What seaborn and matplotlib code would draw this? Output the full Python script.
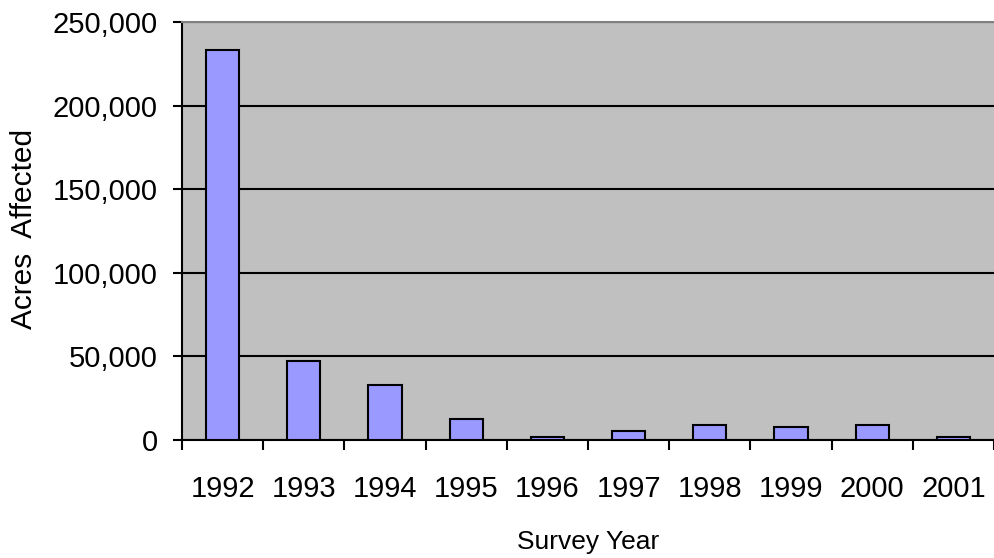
import matplotlib
matplotlib.use("Agg")
import matplotlib.pyplot as plt
from matplotlib.ticker import FuncFormatter, FixedLocator
import seaborn as sns
import pandas as pd

years = ["1992", "1993", "1994", "1995", "1996", "1997", "1998", "1999", "2000", "2001"]
acres = [233000, 47000, 32800, 12500, 1500, 5300, 9000, 7700, 9000, 1500]

df = pd.DataFrame({"Survey Year": years, "Acres Affected": acres})

sns.set_theme(style="white")
plt.rcParams["font.family"] = ["Liberation Sans", "DejaVu Sans"]

fig = plt.figure(figsize=(9.95, 5.58), dpi=100)
ax = fig.add_axes([182 / 995, 118 / 558, 812 / 995, 418 / 558])
ax.set_facecolor("#C0C0C0")

sns.barplot(data=df, x="Survey Year", y="Acres Affected", ax=ax,
            color="#9999FF", saturation=1, width=0.41,
            edgecolor="black", linewidth=1.5, zorder=3)

ax.set_xlim(-0.5, len(years) - 0.5)
ax.set_ylim(0, 250000)
ax.set_yticks(range(0, 250001, 50000))
ax.yaxis.set_major_formatter(FuncFormatter(lambda v, p: f"{int(v):,}"))
ax.grid(axis="y", color="black", linewidth=1.5, zorder=1)
ax.set_axisbelow(True)

# category boundaries carry the tick marks, labels sit at category centres
ax.xaxis.set_minor_locator(FixedLocator([i - 0.5 for i in range(len(years) + 1)]))
ax.tick_params(axis="x", which="major", length=0, pad=25, labelsize=21)
ax.tick_params(axis="x", which="minor", length=7.5, width=1.5, color="black", direction="out")
ax.tick_params(axis="y", length=6.5, width=1.5, color="black", direction="out", pad=11, labelsize=21)
ax.xaxis.set_ticks_position("bottom")
ax.yaxis.set_ticks_position("left")

for lab in ax.get_xticklabels() + ax.get_yticklabels():
    lab.set_color("black")

ax.set_xlabel("Survey Year", fontsize=19, color="black")
ax.xaxis.label.set_va("center")
ax.xaxis.set_label_coords(0.5, (440 - 542) / 418)
ax.set_ylabel("Acres  Affected", fontsize=21.5, color="black")
ax.yaxis.label.set_va("center")
ax.yaxis.set_label_coords((24 - 182) / 812, 0.506)

ax.spines["left"].set_color("black")
ax.spines["left"].set_linewidth(1.5)
ax.spines["bottom"].set_color("black")
ax.spines["bottom"].set_linewidth(1.5)
ax.spines["top"].set_color("#808080")
ax.spines["top"].set_linewidth(1.5)
ax.spines["right"].set_visible(False)

fig.savefig("out.png", dpi=100, facecolor="white")
